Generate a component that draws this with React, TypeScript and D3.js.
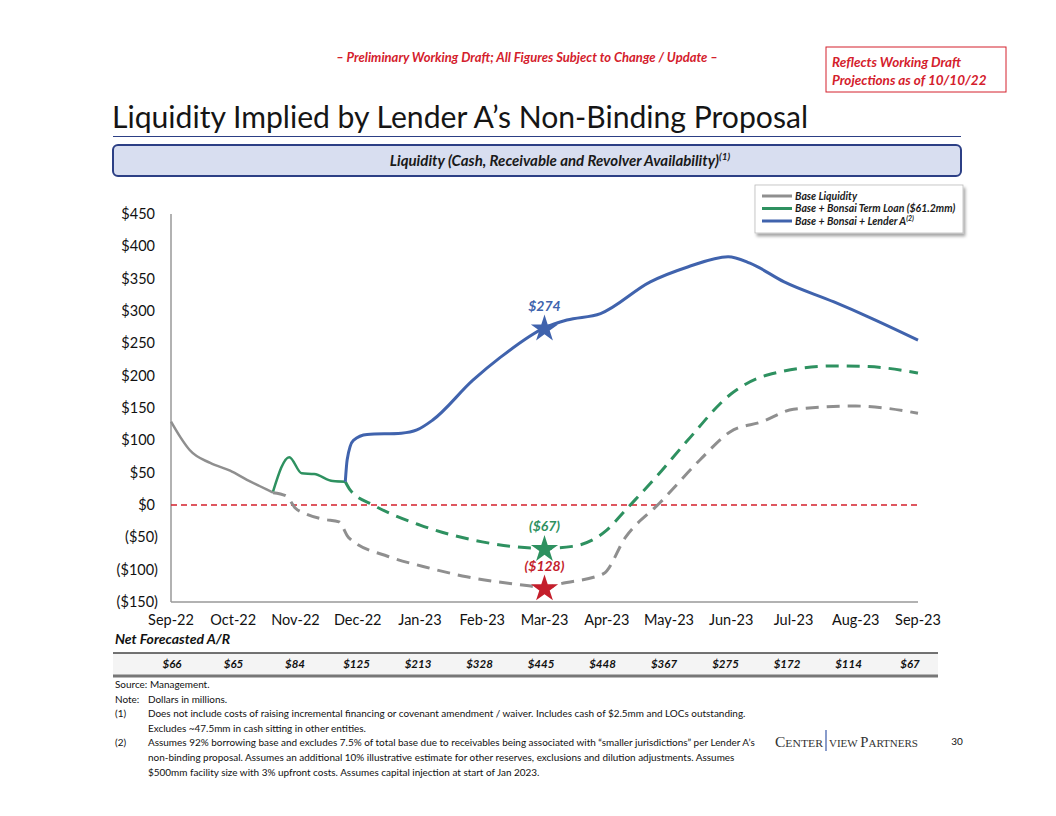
import * as d3 from "d3";

const MONTHS = ["Sep-22", "Oct-22", "Nov-22", "Dec-22", "Jan-23", "Feb-23", "Mar-23", "Apr-23", "May-23", "Jun-23", "Jul-23", "Aug-23", "Sep-23"];
const AR_VALUES = ["$66", "$65", "$84", "$125", "$213", "$328", "$445", "$448", "$367", "$275", "$172", "$114", "$67"];
const Y_TICKS = [450, 400, 350, 300, 250, 200, 150, 100, 50, 0, -50, -100, -150];

// [month offset from Sep-22, $mm]
const BASE_ACTUAL: [number, number][] = [
  [0, 129], [0.15, 105], [0.3, 85], [0.63, 65], [0.95, 53], [1.22, 39], [1.43, 29], [1.64, 19],
];
const BASE_PROJ: [number, number][] = [
  [1.64, 19], [1.85, 14], [2.0, -5], [2.15, -13], [2.45, -22], [2.7, -26], [2.85, -50], [3.5, -80],
  [4.05, -95], [4.75, -111], [5.75, -125], [6.0, -128], [6.25, -122], [6.95, -106], [7.3, -50],
  [7.85, 3], [8.5, 70], [8.98, 113], [9.5, 129], [10.0, 148], [11.0, 153], [12.0, 142],
];
const TERM_ACTUAL: [number, number][] = [
  [1.64, 21], [1.9, 74], [2.1, 49], [2.3, 48], [2.6, 37], [2.8, 36],
];
const TERM_PROJ: [number, number][] = [
  [2.8, 36], [2.88, 23], [3.25, 0], [4.0, -31], [5.0, -57], [6.0, -67], [6.45, -64], [7.0, -39],
  [7.3, -8], [7.8, 44], [8.3, 100], [9.0, 172], [9.58, 201], [10.65, 215], [11.2, 214], [12.0, 204],
];
const LENDER_A: [number, number][] = [
  [2.8, 36], [2.83, 70], [2.93, 100], [3.15, 109], [3.7, 111], [3.95, 116], [4.2, 131],
  [4.85, 193], [5.3, 229], [6.0, 274], [6.36, 286], [6.9, 296], [7.7, 345], [8.3, 368],
  [8.95, 384], [9.3, 374], [9.85, 345], [10.65, 314], [11.2, 291], [12.0, 255],
];
const STARS = [
  { m: 6, v: 274, label: "$274", color: "#4063ad" },
  { m: 6, v: -67, label: "($67)", color: "#2e9160" },
  { m: 6, v: -128, label: "($128)", color: "#c41e2b" },
];
const LEGEND = [
  { label: "Base Liquidity", color: "#8f8f8f", sup: "" },
  { label: "Base + Bonsai Term Loan ($61.2mm)", color: "#2e9160", sup: "" },
  { label: "Base + Bonsai + Lender A", color: "#4063ad", sup: "(2)" },
];
const FOOTNOTES: [string, string][] = [
  ["Source:", "Management."],
  ["Note:", "Dollars in millions."],
  ["(1)", "Does not include costs of raising incremental financing or covenant amendment / waiver. Includes cash of $2.5mm and LOCs outstanding."],
  ["", "Excludes ~47.5mm in cash sitting in other entities."],
  ["(2)", "Assumes 92% borrowing base and excludes 7.5% of total base due to receivables being associated with \u201csmaller jurisdictions\u201d per Lender A\u2019s"],
  ["", "non-binding proposal. Assumes an additional 10% illustrative estimate for other reserves, exclusions and dilution adjustments. Assumes"],
  ["", "$500mm facility size with 3% upfront costs. Assumes capital injection at start of Jan 2023."],
];

const FONT = "Lato, 'Open Sans', sans-serif";
const RED = "#d4202c";
const GRAY = "#8f8f8f";
const GREEN = "#2e9160";
const BLUE = "#4063ad";

export default function App() {
  const x = d3.scaleLinear().domain([0, 12]).range([171, 918]);
  const y = d3.scaleLinear().domain([-150, 450]).range([602, 214]);
  const line = d3.line<[number, number]>()
    .x(d => x(d[0]))
    .y(d => y(d[1]))
    .curve(d3.curveMonotoneX);
  const star = d3.symbol().type(d3.symbolStar).size(230)();

  return (
    <svg width={1056} height={816} style={{ position: "absolute", left: 0, top: 0 }} fontFamily={FONT}>
      <defs>
        <filter id="shadow" x="-5%" y="-10%" width="115%" height="140%">
          <feDropShadow dx="2" dy="3" stdDeviation="1.5" floodColor="#000" floodOpacity="0.35" />
        </filter>
      </defs>
      <rect width={1056} height={816} fill="#fff" />

      {/* header */}
      <text x={527} y={62} textAnchor="middle" fill={RED} fontSize={13} fontWeight="bold" fontStyle="italic">
        {"\u2013 Preliminary Working Draft; All Figures Subject to Change / Update \u2013"}
      </text>
      <rect x={826} y={47} width={180} height={45} fill="#fff" stroke={RED} strokeWidth={1} />
      <text x={832} y={67} fill={RED} fontSize={13.5} fontWeight="bold" fontStyle="italic">Reflects Working Draft</text>
      <text x={832} y={85} fill={RED} fontSize={13.5} fontWeight="bold" fontStyle="italic">Projections as of 10/10/22</text>

      {/* title */}
      <text x={112} y={128} fill="#151515" fontSize={30} textLength={696} lengthAdjust="spacingAndGlyphs">
        {"Liquidity Implied by Lender A\u2019s Non-Binding Proposal"}
      </text>
      <line x1={113} x2={961} y1={136.5} y2={136.5} stroke="#2c3f85" strokeWidth={1} />

      {/* banner */}
      <rect x={113} y={145} width={848} height={31} rx={5} fill="#d8def0" stroke="#2c3f85" strokeWidth={2} />
      <text x={560} y={166} textAnchor="middle" fill="#1a1a1a" fontSize={15} fontWeight="bold" fontStyle="italic">
        Liquidity (Cash, Receivable and Revolver Availability)
        <tspan fontSize={10} dy={-6}>(1)</tspan>
      </text>

      {/* axes */}
      <line x1={171} x2={171} y1={214} y2={602} stroke="#999" strokeWidth={1.5} />
      <line x1={171} x2={918} y1={602} y2={602} stroke="#999" strokeWidth={1.5} />
      {Y_TICKS.map(t => (
        <text key={t} x={t < 0 ? 158 : 155} y={y(t)} dy="0.35em" textAnchor="end" fontSize={14.5} fill="#111">
          {t < 0 ? `($${-t})` : `$${t}`}
        </text>
      ))}
      {MONTHS.map((m, i) => (
        <text key={m} x={x(i)} y={620} dy="0.35em" textAnchor="middle" fontSize={14.5} fill="#111">{m}</text>
      ))}

      {/* zero line */}
      <line x1={171} x2={918} y1={y(0)} y2={y(0)} stroke={RED} strokeWidth={1.5} strokeDasharray="6,4" />

      {/* series */}
      <path d={line(BASE_PROJ) ?? ""} fill="none" stroke={GRAY} strokeWidth={3} strokeDasharray="13,8" />
      <path d={line(TERM_PROJ) ?? ""} fill="none" stroke={GREEN} strokeWidth={3} strokeDasharray="13,8" />
      <path d={line(BASE_ACTUAL) ?? ""} fill="none" stroke={GRAY} strokeWidth={2.5} />
      <path d={line(TERM_ACTUAL) ?? ""} fill="none" stroke={GREEN} strokeWidth={2.5} />
      <path d={line(LENDER_A) ?? ""} fill="none" stroke={BLUE} strokeWidth={3} />

      {STARS.map(s => (
        <g key={s.label}>
          <path d={star ?? ""} transform={`translate(${x(s.m)},${y(s.v) + 1})`} fill={s.color} />
          <text x={x(s.m)} y={y(s.v) - 17} textAnchor="middle" fill={s.color} fontSize={14} fontWeight="bold" fontStyle="italic">{s.label}</text>
        </g>
      ))}

      {/* legend */}
      <rect x={755} y={185} width={208} height={48} fill="#fff" stroke="#bbb" strokeWidth={0.8} filter="url(#shadow)" />
      {LEGEND.map((l, i) => (
        <g key={l.label} transform={`translate(762,${196 + i * 12.5})`}>
          <line x1={0} x2={30} y1={0} y2={0} stroke={l.color} strokeWidth={3} />
          <text x={33} y={0} dy="0.35em" fontSize={10.5} fontWeight="bold" fontStyle="italic" fill="#1a1a1a">
            {l.label}
            {l.sup && <tspan fontSize={7} dy={-4}>{l.sup}</tspan>}
          </text>
        </g>
      ))}

      {/* Net forecasted A/R table */}
      <text x={115} y={644} fontSize={14} fontWeight="bold" fontStyle="italic" fill="#111">Net Forecasted A/R</text>
      <rect x={113} y={653} width={825} height={23} fill="#f4f4f4" />
      <line x1={113} x2={938} y1={653} y2={653} stroke="#444" strokeWidth={1.5} />
      <line x1={113} x2={938} y1={676} y2={676} stroke="#777" strokeWidth={3} />
      {AR_VALUES.map((v, i) => (
        <text key={i} x={172 + i * 61.5} y={664} dy="0.35em" textAnchor="middle" fontSize={11.5} fontWeight="bold" fontStyle="italic" fill="#111">{v}</text>
      ))}

      {/* footnotes */}
      {FOOTNOTES.map(([k, t], i) => (
        <g key={i} fontSize={9.95} fill="#111">
          {k === "Source:" ? (
            <text x={115} y={688 + i * 14.6}>{k} {t}</text>
          ) : (
            <>
              <text x={115} y={688 + i * 14.6}>{k}</text>
              <text x={148} y={688 + i * 14.6}>{t}</text>
            </>
          )}
        </g>
      ))}

      {/* logo */}
      <text x={775} y={747} fontSize={14} fill="#333" fontFamily="'Liberation Serif', serif" textLength={48} lengthAdjust="spacingAndGlyphs">
        C<tspan fontSize={10.5}>ENTER</tspan>
      </text>
      <line x1={826} x2={826} y1={730} y2={751} stroke="#3a5aa8" strokeWidth={1.2} />
      <text x={829} y={747} fontSize={14} fill="#333" fontFamily="'Liberation Serif', serif" textLength={89} lengthAdjust="spacingAndGlyphs">
        <tspan fontSize={10.5}>VIEW </tspan>P<tspan fontSize={10.5}>ARTNERS</tspan>
      </text>
      <text x={957} y={745} textAnchor="middle" fontSize={10} fill="#111">30</text>
    </svg>
  );
}
